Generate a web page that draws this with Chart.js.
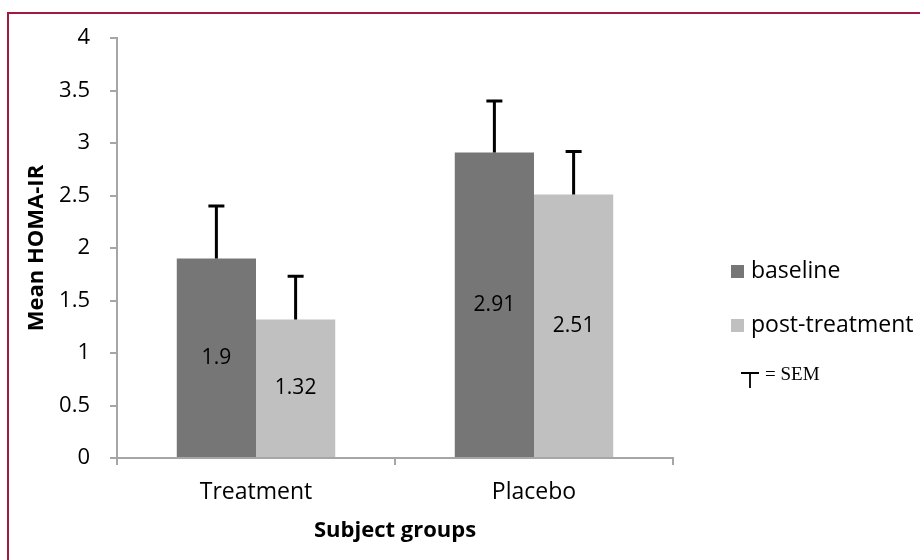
<!DOCTYPE html>
<html><head><meta charset="utf-8">
<script src="https://cdn.jsdelivr.net/npm/chart.js@4.4.0/dist/chart.umd.min.js"></script>
<style>
html,body{margin:0;padding:0;background:#fff;overflow:hidden;width:920px;height:560px}
#wrap{position:absolute;left:0;top:0;width:920px;height:560px}
#frame{position:absolute;left:7px;top:12px;width:1000px;height:1000px;border-left:2px solid #a2183e;border-top:2px solid #a2183e;pointer-events:none}
</style></head><body>
<div id="wrap"><canvas id="c" width="920" height="560"></canvas></div>
<div id="frame"></div>
<script>
const categories = ['Treatment', 'Placebo'];
const seriesNames = ['baseline', 'post-treatment'];
const baselineValues = [1.9, 2.91];
const postValues = [1.32, 2.51];
const baselineSEM = [0.5, 0.49];
const postSEM = [0.41, 0.41];
const yMin = 0, yMax = 4, yStep = 0.5;
const semLabel = '= SEM';

const FONT = '"Open Sans", Lato, sans-serif';
const AXIS = '#a6a6a6';

const errorBars = {
  id: 'errorBars',
  afterDatasetsDraw(chart) {
    const ctx = chart.ctx, ys = chart.scales.y;
    ctx.save();
    ctx.strokeStyle = '#000';
    ctx.lineWidth = 3;
    chart.data.datasets.forEach((ds, di) => {
      const meta = chart.getDatasetMeta(di);
      meta.data.forEach((bar, i) => {
        const top = ys.getPixelForValue(ds.data[i] + ds.sem[i]);
        ctx.beginPath();
        ctx.moveTo(bar.x, bar.y);
        ctx.lineTo(bar.x, top);
        ctx.moveTo(bar.x - 8, top);
        ctx.lineTo(bar.x + 8, top);
        ctx.stroke();
      });
    });
    ctx.restore();
  }
};

const valueLabels = {
  id: 'valueLabels',
  afterDatasetsDraw(chart) {
    const ctx = chart.ctx;
    ctx.save();
    ctx.fillStyle = '#000';
    ctx.font = '21px ' + FONT;
    ctx.textAlign = 'center';
    ctx.textBaseline = 'middle';
    chart.data.datasets.forEach((ds, di) => {
      chart.getDatasetMeta(di).data.forEach((bar, i) => {
        ctx.fillText(String(ds.data[i]), bar.x, (bar.y + bar.base) / 2);
      });
    });
    ctx.restore();
  }
};

const customLegend = {
  id: 'customLegend',
  afterDraw(chart) {
    const ctx = chart.ctx;
    ctx.save();
    ctx.textBaseline = 'middle';
    ctx.textAlign = 'left';
    chart.data.datasets.forEach((ds, i) => {
      const cy = 271 + i * 54;
      ctx.fillStyle = ds.backgroundColor;
      ctx.fillRect(731, cy - 6, 13, 13);
      ctx.fillStyle = '#000';
      ctx.font = '23px ' + FONT;
      ctx.fillText(ds.label, 751, cy);
    });
    // SEM symbol
    ctx.strokeStyle = '#000';
    ctx.lineWidth = 1.8;
    ctx.beginPath();
    ctx.moveTo(741, 373);
    ctx.lineTo(759, 373);
    ctx.moveTo(750, 373);
    ctx.lineTo(750, 388);
    ctx.stroke();
    ctx.fillStyle = '#000';
    ctx.font = '19px "Liberation Serif", "Times New Roman", serif';
    ctx.fillText(semLabel, 765, 375);
    ctx.restore();
  }
};

new Chart(document.getElementById('c'), {
  type: 'bar',
  data: {
    labels: categories,
    datasets: [
      { label: seriesNames[0], data: baselineValues, sem: baselineSEM, backgroundColor: '#767676', borderWidth: 0 },
      { label: seriesNames[1], data: postValues, sem: postSEM, backgroundColor: '#c0c0c0', borderWidth: 0 }
    ]
  },
  options: {
    responsive: false,
    animation: false,
    devicePixelRatio: 1,
    layout: { padding: { left: 0, right: 247, top: 38, bottom: 0 } },
    plugins: { legend: { display: false }, tooltip: { enabled: false } },
    datasets: { bar: { categoryPercentage: 0.57, barPercentage: 1.0 } },
    scales: {
      x: {
        afterFit(s) { s.height = 102; },
        grid: { display: true, drawOnChartArea: false, drawTicks: true, tickLength: 7, color: AXIS, lineWidth: 2, offset: true },
        border: { color: AXIS, width: 2 },
        ticks: { color: '#000', font: { family: FONT, size: 23 }, padding: 14 },
        title: { display: true, text: 'Subject groups', color: '#000', font: { family: FONT, size: 22, weight: 'bold' }, padding: { top: 0, bottom: 16 } }
      },
      y: {
        min: yMin, max: yMax,
        afterFit(s) { s.width = 117; },
        grid: { display: true, drawOnChartArea: false, drawTicks: true, tickLength: 7, color: AXIS, lineWidth: 2 },
        border: { color: AXIS, width: 2 },
        ticks: { stepSize: yStep, color: '#000', font: { family: FONT, size: 22 }, padding: 20, callback: v => String(v) },
        title: { display: true, text: 'Mean HOMA-IR', color: '#000', font: { family: FONT, size: 22, weight: 'bold' }, padding: { top: 24, bottom: 0 } }
      }
    }
  },
  plugins: [errorBars, valueLabels, customLegend]
});
</script>
</body></html>
